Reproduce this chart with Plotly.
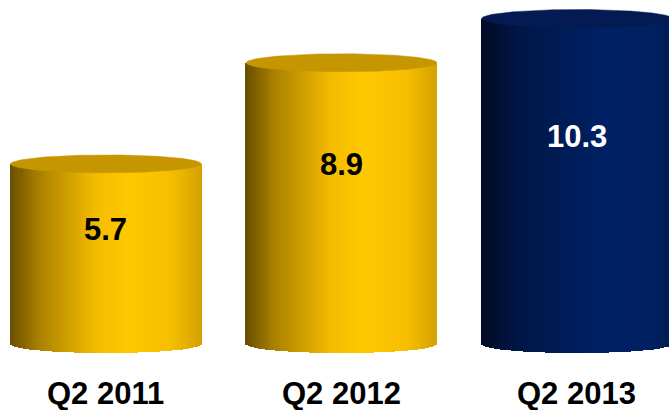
import numpy as np
import plotly.graph_objects as go

# ---- data ----
categories = ["Q2 2011", "Q2 2012", "Q2 2013"]
values = [5.7, 8.9, 10.3]
value_labels = ["5.7", "8.9", "10.3"]

# ---- style ----
gold_stops = [(0.0, (105, 78, 0)), (0.15, (170, 128, 0)), (0.45, (244, 188, 0)),
              (0.62, (255, 200, 0)), (0.85, (246, 190, 0)), (1.0, (212, 162, 0))]
navy_stops = [(0.0, (2, 10, 36)), (0.2, (0, 22, 70)), (0.65, (0, 33, 102)),
              (0.9, (0, 32, 96)), (1.0, (0, 27, 82))]
palettes = [gold_stops, gold_stops, navy_stops]
top_colors = ["rgb(198,150,0)", "rgb(198,150,0)", "rgb(4,26,82)"]
label_colors = ["black", "black", "white"]
FONT = "Liberation Sans, Arial, sans-serif"

bar_w = 0.81        # cylinder width in category units
ell_h = 0.285       # ellipse half-height in value units
n_slices = 90


def grad(stops, t):
    for (t0, c0), (t1, c1) in zip(stops[:-1], stops[1:]):
        if t <= t1:
            f = (t - t0) / (t1 - t0) if t1 > t0 else 0
            c = [c0[i] + (c1[i] - c0[i]) * f for i in range(3)]
            return "rgb(%d,%d,%d)" % tuple(round(v) for v in c)
    return "rgb(%d,%d,%d)" % stops[-1][1]


fig = go.Figure()

xs, bases, heights, widths, colors = [], [], [], [], []
sw = bar_w / n_slices
for i, v in enumerate(values):
    for k in range(n_slices):
        t = (k + 0.5) / n_slices
        dx = (t - 0.5) * bar_w
        b = -ell_h * np.sqrt(max(0.0, 1 - (2 * dx / bar_w) ** 2))
        xs.append(i + dx)
        bases.append(b)
        heights.append(v - b)
        widths.append(sw * 1.6)
        colors.append(grad(palettes[i], t))

fig.add_trace(go.Bar(x=xs, y=heights, base=bases, width=widths,
                     marker=dict(color=colors, line=dict(width=0)),
                     hoverinfo="skip", showlegend=False))

theta = np.linspace(0, 2 * np.pi, 200)
for i, v in enumerate(values):
    fig.add_trace(go.Scatter(x=i + bar_w / 2 * np.cos(theta), y=v + ell_h * np.sin(theta),
                             fill="toself", fillcolor=top_colors[i], mode="lines",
                             line=dict(width=0.5, color=top_colors[i]),
                             hoverinfo="skip", showlegend=False))

annotations = []
for i, v in enumerate(values):
    annotations.append(dict(x=i, y=v * 0.637, text="<b>%s</b>" % value_labels[i], showarrow=False,
                            font=dict(family=FONT, size=31, color=label_colors[i]),
                            xanchor="center", yanchor="middle"))
    annotations.append(dict(x=i, y=-1.58, text="<b>%s</b>" % categories[i], showarrow=False,
                            font=dict(family=FONT, size=31, color="black"),
                            xanchor="center", yanchor="middle"))

fig.update_layout(
    width=669, height=410,
    margin=dict(l=0, r=0, t=0, b=0),
    paper_bgcolor="white", plot_bgcolor="white",
    barmode="overlay", bargap=0,
    xaxis=dict(range=[-0.450, 2.391], visible=False, showgrid=False, zeroline=False),
    yaxis=dict(range=[-2.089, 10.886], visible=False, showgrid=False, zeroline=False),
    annotations=annotations,
)

fig.write_html("out.html")
